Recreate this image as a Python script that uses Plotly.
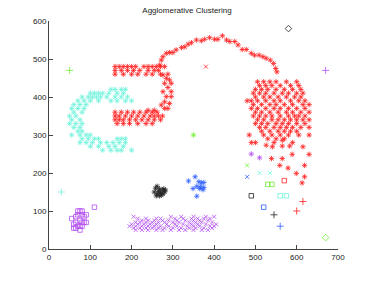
import plotly.graph_objects as go

# ---------------- data ----------------
red_arc = [(268,484),(272,497),(276,506),(284,515),(292,517),(300,517),(308,524),(321,530),
           (329,532),(337,539),(345,543),(357,550),(369,548),(377,552),(389,556),(401,552),
           (409,552),(420,561),(430,550),(438,546),(450,546),(458,537),(468,525),(478,525),
           (490,515),(498,510),(509,510),(518,506),(526,502),(536,497),(544,488),(549,475),(552,466)]

red_hook_rows = [
    (480, [160,170,180,190,200,210,230,240,250,260,270,280]),
    (470, [160,175,190,205,220,240,255,265]),
    (460, [160,180,200,215,235,250,270]),
    (365, [240,255]),
    (360, [160,175,190,205,220,235,250,262]),
    (350, [160,170,185,200,215,230,245,255,265,275]),
    (340, [160,170,180,195,210,225,240,255,270]),
    (330, [165,180,195,215,235,250]),
]
red_hook_pts = [(276,458),(288,460),(284,449),(292,445),(280,436),(296,436),(288,425),(276,414),
                (296,414),(284,401),(296,401),(280,387),(292,383),(272,379),(280,370),(288,370)]

red_blob_rows = [
    (440, [505,520,535,550,575,600]),
    (430, [510,525,540,560,585,605]),
    (420, [500,515,530,550,570,590,610]),
    (410, [495,510,525,545,565,580,600,615]),
    (400, [500,520,535,555,575,595,610]),
    (390, [480,490,505,525,545,560,585,605,620]),
    (380, [495,515,535,550,570,590,615,630]),
    (370, [490,505,525,545,560,580,600,620]),
    (360, [500,515,535,555,575,590,610,630]),
    (350, [495,510,525,540,560,580,595,605,620]),
    (340, [505,520,540,555,570,585,600,615,630]),
    (330, [500,515,530,550,565,580,600,620]),
    (320, [510,525,545,560,575,590,610,630]),
    (310, [515,535,555,570,585,600]),
    (300, [485,520,540,560,580,605,630]),
    (290, [530,550,570]),
    (280, [490,500,545,590]),
]
red_blob_pts = [(526,273),(541,269),(565,286),(565,271),(583,271),(615,269),(539,238),(565,238),
                (589,249),(630,249),(559,220),(579,213),(619,220),(599,199),(619,190),(613,174)]

cyan_rows = [
    (420, [150,160,175,185]),
    (410, [100,110,120,130,145,165,180]),
    (400, [80,95,105,115,125,140,160,175,190]),
    (390, [70,85,100,120,150,165,185,200]),
    (380, [60,75,90]),
    (370, [55,70,85]),
    (360, [60,80]),
    (350, [50,65]),
    (340, [55,75]),
    (330, [50,65,80]),
    (320, [60,75]),
    (310, [70,80]),
    (300, [55,75,90,100]),
    (290, [80,95,110,120,165,175,185]),
    (280, [75,90,105,125,140,155,170,185]),
    (270, [100,120,145,160,180]),
    (260, [130,150,165,175,200]),
]

blue_star = [(338,179),(354,190),(349,159),(358,165),(363,177),(369,174),(375,175),(365,159),
             (373,156),(358,139),(375,162),(367,163)]
black_star = [(258,160),(262,165),(268,158),(275,155),(280,150),(262,145),(270,148),(265,152),
              (255,150),(272,142),(278,158),(260,140),(268,140),(282,155),(276,145)]
purple_sq = [(55,80),(60,55),(60,65),(65,55),(65,70),(70,90),(70,100),(75,100),(75,75),(80,90),
             (80,100),(80,70),(85,70),(90,90),(90,70),(75,60),(70,60),(80,60),(75,50),(65,85),
             (85,85),(110,110)]
purple_x_rows = [
    (85, [205,295,320,350,380,400]),
    (80, [215,235,260,270,305,325,345,360,375,390]),
    (75, [225,240,255,275,290,310,330,350,365,385]),
    (70, [210,220,235,250,265,280,300,315,340,355,370,395]),
    (65, [200,215,230,245,260,285,305,325,345,360,380,405]),
    (60, [195,210,225,240,255,270,290,310,335,350,365,390,400]),
    (55, [205,220,235,250,265,280,300,320,340,355,375,395]),
    (50, [210,225,240,260,275,295,315,330,350,370,385]),
]

# singletons: (x, y, colour, symbol)
singles = [
    (380, 480, "red", "x"), (570, 180, "red", "square"), (615, 125, "red", "plus"), (600, 100, "red", "plus"),
    (30, 150, "cyan", "plus"), (510, 200, "cyan", "x"), (535, 200, "cyan", "x"),
    (560, 140, "cyan", "square"), (575, 140, "cyan", "square"),
    (350, 300, "green", "star"), (50, 470, "green", "plus"), (480, 220, "green", "x"),
    (530, 170, "green", "square"), (540, 170, "green", "square"), (670, 30, "green", "diamond"),
    (480, 190, "blue", "x"), (520, 110, "blue", "square"), (560, 60, "blue", "plus"),
    (490, 140, "black", "square"), (545, 90, "black", "plus"), (580, 580, "black", "diamond"),
    (490, 250, "purple", "star"), (510, 240, "purple", "star"), (670, 470, "purple", "plus"),
]

# ---------------- styling ----------------
COL = {"red": "#ff2020", "cyan": "#70f2dc", "green": "#70ee30", "blue": "#3060ff",
       "black": "#222222", "purple": "#b450f0"}
SYM = {"star": "asterisk-open", "x": "x-thin-open", "plus": "cross-thin-open",
       "square": "square-open", "diamond": "diamond-open"}
SIZE = {"star": 4.5, "x": 4, "plus": 5, "square": 4.5, "diamond": 5}


def expand(rows):
    xs, ys = [], []
    for y, row in rows:
        for x in row:
            xs.append(x)
            ys.append(y)
    return xs, ys


fig = go.Figure()


def add(xs, ys, colour, kind):
    fig.add_trace(go.Scatter(x=xs, y=ys, mode="markers", showlegend=False,
                             marker=dict(symbol=SYM[kind], size=SIZE[kind], color=COL[colour],
                                         line=dict(width=0.8, color=COL[colour]))))


hx, hy = expand(red_hook_rows)
bx, by = expand(red_blob_rows)
rx = [p[0] for p in red_arc] + hx + [p[0] for p in red_hook_pts] + bx + [p[0] for p in red_blob_pts]
ry = [p[1] for p in red_arc] + hy + [p[1] for p in red_hook_pts] + by + [p[1] for p in red_blob_pts]
add(rx, ry, "red", "star")

cx, cy = expand(cyan_rows)
add(cx, cy, "cyan", "star")
add([p[0] for p in blue_star], [p[1] for p in blue_star], "blue", "star")
add([p[0] for p in black_star], [p[1] for p in black_star], "black", "star")
add([p[0] for p in purple_sq], [p[1] for p in purple_sq], "purple", "square")
px_, py_ = expand(purple_x_rows)
add(px_, py_, "purple", "x")
for x, y, c, k in singles:
    add([x], [y], c, k)

axis = dict(showgrid=False, zeroline=False, showline=True, linecolor="#444444", linewidth=1,
            ticks="inside", ticklen=4, tickcolor="#444444", mirror=False,
            tickfont=dict(family="Liberation Sans, Arial, sans-serif", size=8, color="#222222"))
fig.update_layout(
    width=374, height=281,
    margin=dict(l=49, r=36, t=21, b=32),
    paper_bgcolor="white", plot_bgcolor="white",
    title=dict(text="Agglomerative Clustering", x=0.5, xanchor="center", y=0.975, yanchor="top",
               font=dict(family="Liberation Sans, Arial, sans-serif", size=8, color="#222222")),
    xaxis=dict(range=[0, 700], tickvals=[0, 100, 200, 300, 400, 500, 600, 700], **axis),
    yaxis=dict(range=[0, 600], tickvals=[0, 100, 200, 300, 400, 500, 600], **axis),
)
fig.write_html("out.html", config={"displayModeBar": False},
               post_script="document.body.style.margin='0';")
